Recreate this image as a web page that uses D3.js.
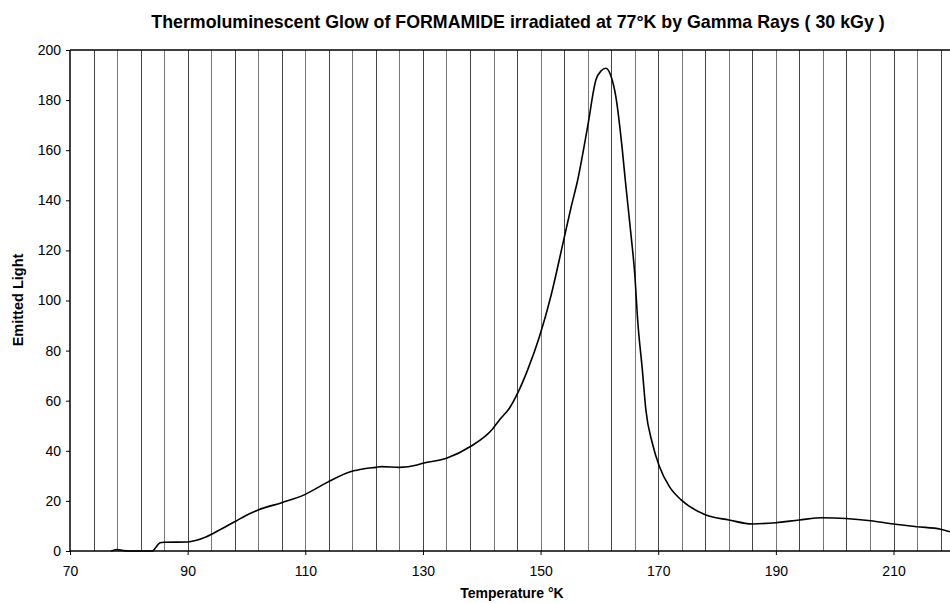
<!DOCTYPE html>
<html>
<head>
<meta charset="utf-8">
<script src="https://cdn.jsdelivr.net/npm/d3@7"></script>
<style>
  body { margin: 0; background: #fff; }
  svg { display: block; font-family: "Liberation Sans", Arial, sans-serif; }
</style>
</head>
<body>
<div id="chart"></div>
<script>
// data
var temps = [77, 78, 79, 80, 84, 84.6, 85.3, 86, 90, 91.5, 93.2, 95.5, 98, 100, 102, 106, 110,
  113.8, 117.8, 120, 122, 123, 126, 129, 130, 134, 138, 141.8, 143, 144.7, 146.1, 147.8,
  149.8, 151.8, 153.8, 155.2, 156.3, 158, 159.4, 160.3, 161.1, 162, 162.8, 163.9, 164.4,
  165.4, 166, 166.5, 167.3, 167.9, 169, 170.2, 171.9, 173.9, 178.1, 182, 186, 190, 194,
  197.9, 201.9, 206.1, 210, 214, 218, 219.6];
var light = [0, 0.6, 0.2, 0, 0, 1.5, 3.3, 3.5, 3.6, 4.3, 5.7, 8.5, 11.7, 14.3, 16.4, 19.3, 22.6,
  27.5, 31.7, 32.8, 33.4, 33.7, 33.4, 34.3, 35, 37, 41.6, 48.6, 52.3, 57, 63, 72.3,
  85.5, 102.2, 122.8, 137.4, 148, 169.4, 188, 191.7, 192.7, 189.3, 181.3, 160, 148,
  125.5, 110.9, 92.2, 72.3, 56.3, 43, 33.7, 25.7, 20.4, 14.4, 12.4, 10.8, 11.3, 12.4,
  13.3, 13, 12.1, 10.8, 9.7, 8.7, 7.7];
var xTicks = [70, 90, 110, 130, 150, 170, 190, 210];
var yTicks = [0, 20, 40, 60, 80, 100, 120, 140, 160, 180, 200];
var gridTemps = [74, 78, 82, 86, 90, 94, 98, 102, 106, 110, 114, 118, 122, 126, 130, 134, 138,
  142, 146, 150, 154, 158, 162, 166, 170, 174, 178, 182, 186, 190, 194, 198, 202, 206,
  210, 214, 218];

var margin = { top: 50, right: 0, bottom: 52, left: 70 };
var width  = 950 - margin.left - margin.right;
var height = 603 - margin.top - margin.bottom;

var points = temps.map(function(t, i) { return { t: t, v: light[i] }; });

var xScale = d3.scaleLinear().domain([70, 219.6]).range([0, width]);
var yScale = d3.scaleLinear().domain([0, 200]).range([height, 0]);

var svg = d3.select('#chart').append('svg')
  .attr('width', 950)
  .attr('height', 603);

var g = svg.append('g')
  .attr('transform', 'translate(' + margin.left + ',' + margin.top + ')');

// vertical grid lines every 4 degrees
g.selectAll('.grid').data(gridTemps)
  .enter().append('line')
    .attr('class', 'grid')
    .attr('x1', function(d) { return Math.round(xScale(d)) + 0.5; })
    .attr('x2', function(d) { return Math.round(xScale(d)) + 0.5; })
    .attr('y1', 0)
    .attr('y2', height)
    .attr('stroke', function(d, i) { return i % 2 ? '#777' : '#444'; })
    .attr('stroke-width', 1);

// top border
g.append('line')
  .attr('x1', 0).attr('x2', width)
  .attr('y1', 0).attr('y2', 0)
  .attr('stroke', '#000')
  .attr('stroke-width', 1.5);

// y axis
var yAxis = d3.axisLeft(yScale).tickValues(yTicks).tickSize(4).tickPadding(5);
var yG = g.append('g').call(yAxis);
yG.select('.domain').remove();
yG.selectAll('text').style('font-size', '14px').attr('fill', '#000');
g.append('line')
  .attr('x1', 0).attr('x2', 0)
  .attr('y1', 0).attr('y2', height)
  .attr('stroke', '#000').attr('stroke-width', 1.5);

// x axis
var xAxis = d3.axisBottom(xScale).tickValues(xTicks).tickSize(4).tickPadding(11);
var xG = g.append('g').attr('transform', 'translate(0,' + height + ')').call(xAxis);
xG.select('.domain').remove();
xG.selectAll('text').style('font-size', '14px').attr('fill', '#000');
g.append('line')
  .attr('x1', 0).attr('x2', width)
  .attr('y1', height).attr('y2', height)
  .attr('stroke', '#000').attr('stroke-width', 1.5);

// the glow curve
var line = d3.line()
  .x(function(d) { return xScale(d.t); })
  .y(function(d) { return yScale(d.v); })
  .curve(d3.curveMonotoneX);

g.append('path')
  .datum(points)
  .attr('d', line)
  .attr('fill', 'none')
  .attr('stroke', '#000')
  .attr('stroke-width', 1.6);

// title
svg.append('text')
  .attr('x', 518)
  .attr('y', 28)
  .style('text-anchor', 'middle')
  .style('font-weight', 'bold')
  .style('font-size', '17.8px')
  .text('Thermoluminescent Glow of FORMAMIDE irradiated at 77°K by Gamma Rays ( 30 kGy )');

// axis titles
svg.append('text')
  .attr('x', 512)
  .attr('y', 598)
  .style('text-anchor', 'middle')
  .style('font-weight', 'bold')
  .style('font-size', '14px')
  .text('Temperature °K');

svg.append('text')
  .attr('transform', 'translate(23,300) rotate(-90)')
  .style('text-anchor', 'middle')
  .style('font-weight', 'bold')
  .style('font-size', '14.5px')
  .text('Emitted Light');
</script>
</body>
</html>
